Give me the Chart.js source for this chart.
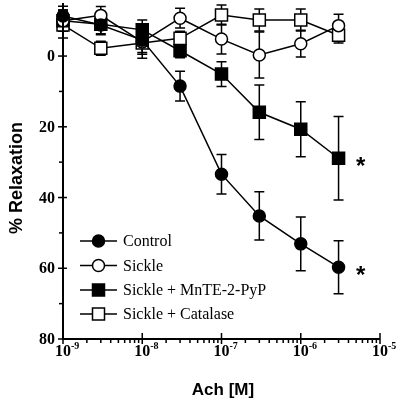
<!DOCTYPE html>
<html>
<head>
<meta charset="utf-8">
<script src="https://cdn.jsdelivr.net/npm/chart.js@4"></script>
<style>
  html, body { margin: 0; padding: 0; background: #fff; }
  #wrap { width: 400px; height: 401px; }
</style>
</head>
<body>
<div id="wrap"><canvas id="chart" width="400" height="401"></canvas></div>
<script>
'use strict';

// Ach concentrations [M]
const concentrations = [1e-9, 3e-9, 1e-8, 3e-8, 1e-7, 3e-7, 1e-6, 3e-6];

const controlVals = [-11.3, -8.8, -4.5, 8.5, 33.4, 45.2, 53.1, 59.7];
const controlErr = [2.8, 2.5, 4, 4.2, 5.6, 6.8, 7.6, 7.5];

const sickleVals = [-10, -11.5, -4, -10.7, -4.8, -0.3, -3.5, -8.6];
const sickleErr = [3, 2.5, 3, 2.8, 4.2, 6.5, 3.8, 3.2];

const mnteVals = [-10, -9, -7.4, -1.5, 5.1, 15.9, 20.7, 28.9];
const mnteErr = [3, 3, 2.8, 2, 3.5, 7.7, 7.8, 11.8];

const catalaseVals = [-8.8, -2.2, -3.7, -5, -11.6, -10.2, -10.2, -5.9];
const catalaseErr = [3.7, 2, 4.3, 2, 2.8, 3.1, 3.1, 2.2];

const yMajorTicks = [0, 20, 40, 60, 80];
const yMinorTicks = [10, 30, 50, 70];
const xDecades = [-9, -8, -7, -6, -5];

// significance marks: series index -> point index
const stars = [{ series: 0, index: 7 }, { series: 2, index: 7 }];

function series(label, vals, err, style, fill) {
    return {
        label: label,
        data: concentrations.map((c, i) => ({ x: c, y: vals[i] })),
        err: err,
        borderColor: '#000',
        borderWidth: 1.5,
        pointStyle: style,
        pointRadius: style === 'rect' ? 8.5 : 6,
        pointBackgroundColor: fill,
        pointBorderColor: '#000',
        pointBorderWidth: 1.5,
        tension: 0,
        clip: false
    };
}

const datasets = [
    series('Control', controlVals, controlErr, 'circle', '#000'),
    series('Sickle', sickleVals, sickleErr, 'circle', '#fff'),
    series('Sickle + MnTE-2-PyP', mnteVals, mnteErr, 'rect', '#000'),
    series('Sickle + Catalase', catalaseVals, catalaseErr, 'rect', '#fff')
];

const serif = '"Liberation Serif", "Times New Roman", serif';
const sans = '"Liberation Sans", Arial, sans-serif';

const errorBars = {
    id: 'errorBars',
    beforeDatasetsDraw(chart) {
        const ctx = chart.ctx;
        const y = chart.scales.y;
        ctx.save();
        ctx.strokeStyle = '#000';
        ctx.lineWidth = 1.5;
        chart.data.datasets.forEach((ds, di) => {
            const meta = chart.getDatasetMeta(di);
            meta.data.forEach((pt, i) => {
                const v = ds.data[i].y;
                const e = ds.err[i];
                const y1 = y.getPixelForValue(v - e);
                const y2 = y.getPixelForValue(v + e);
                ctx.beginPath();
                ctx.moveTo(pt.x, y1); ctx.lineTo(pt.x, y2);
                ctx.moveTo(pt.x - 5, y1); ctx.lineTo(pt.x + 5, y1);
                ctx.moveTo(pt.x - 5, y2); ctx.lineTo(pt.x + 5, y2);
                ctx.stroke();
            });
        });
        ctx.restore();
    }
};

const axesDecor = {
    id: 'axesDecor',
    afterDraw(chart) {
        const ctx = chart.ctx;
        const xs = chart.scales.x;
        const ys = chart.scales.y;
        const area = chart.chartArea;
        ctx.save();
        ctx.strokeStyle = '#000';
        ctx.fillStyle = '#000';
        ctx.lineWidth = 2;

        // axis lines
        ctx.beginPath();
        ctx.moveTo(area.left, area.top);
        ctx.lineTo(area.left, area.bottom);
        ctx.lineTo(area.right, area.bottom);
        ctx.stroke();

        // y ticks
        ctx.lineWidth = 1.5;
        ctx.font = 'bold 16px ' + serif;
        ctx.textAlign = 'right';
        ctx.textBaseline = 'middle';
        yMajorTicks.forEach(v => {
            const py = ys.getPixelForValue(v);
            ctx.beginPath();
            ctx.moveTo(area.left - 5, py); ctx.lineTo(area.left + 4, py);
            ctx.stroke();
            ctx.fillText(String(v), area.left - 8, py + 1);
        });
        yMinorTicks.forEach(v => {
            const py = ys.getPixelForValue(v);
            ctx.beginPath();
            ctx.moveTo(area.left - 4, py); ctx.lineTo(area.left, py);
            ctx.stroke();
        });

        // x ticks
        xDecades.forEach((d, k) => {
            const px = xs.getPixelForValue(Math.pow(10, d));
            ctx.beginPath();
            ctx.moveTo(px, area.bottom - 6); ctx.lineTo(px, area.bottom + 5);
            ctx.stroke();
            if (k < xDecades.length - 1) {
                for (let m = 2; m <= 9; m++) {
                    const mx = xs.getPixelForValue(m * Math.pow(10, d));
                    ctx.beginPath();
                    ctx.moveTo(mx, area.bottom); ctx.lineTo(mx, area.bottom + 4);
                    ctx.stroke();
                }
            }
            ctx.textAlign = 'center';
            ctx.textBaseline = 'alphabetic';
            ctx.font = 'bold 16px ' + serif;
            ctx.fillText('10', px, area.bottom + 17);
            ctx.textAlign = 'left';
            ctx.font = 'bold 10px ' + serif;
            ctx.fillText('-' + Math.abs(d), px + 8, area.bottom + 10);
        });

        // axis titles
        ctx.font = 'bold 17px ' + sans;
        ctx.textAlign = 'center';
        ctx.textBaseline = 'middle';
        ctx.fillText('Ach [M]', 223, 390);
        ctx.save();
        ctx.translate(17, 178);
        ctx.rotate(-Math.PI / 2);
        ctx.font = 'bold 18px ' + sans;
        ctx.fillText('% Relaxation', 0, 0);
        ctx.restore();

        // significance stars
        ctx.font = 'bold 24px ' + sans;
        ctx.textAlign = 'center';
        stars.forEach(s => {
            const pt = chart.getDatasetMeta(s.series).data[s.index];
            ctx.fillText('*', pt.x + 22, pt.y + 9);
        });

        // legend
        const rows = [241, 265.5, 290, 314];
        chart.data.datasets.forEach((ds, i) => {
            const ly = rows[i];
            ctx.lineWidth = 1.5;
            ctx.beginPath();
            ctx.moveTo(80, ly); ctx.lineTo(117, ly);
            ctx.stroke();
            ctx.fillStyle = ds.pointBackgroundColor;
            ctx.beginPath();
            if (ds.pointStyle === 'circle') {
                ctx.arc(98.5, ly, 6, 0, Math.PI * 2);
            } else {
                ctx.rect(92.5, ly - 6, 12, 12);
            }
            ctx.fill();
            ctx.stroke();
            ctx.fillStyle = '#000';
            ctx.font = '16px ' + serif;
            ctx.textAlign = 'left';
            ctx.textBaseline = 'middle';
            ctx.fillText(ds.label, 123, ly + 1);
        });
        ctx.restore();
    }
};

new Chart(document.getElementById('chart'), {
    type: 'line',
    data: { datasets: datasets },
    options: {
        responsive: false,
        animation: false,
        layout: { autoPadding: false, padding: { left: 63, right: 20, top: 3, bottom: 62 } },
        plugins: {
            legend: { display: false },
            tooltip: { enabled: false }
        },
        scales: {
            x: { type: 'logarithmic', min: 1e-9, max: 1e-5, display: false },
            y: { type: 'linear', min: -15, max: 80, reverse: true, display: false }
        }
    },
    plugins: [errorBars, axesDecor]
});
</script>
</body>
</html>
